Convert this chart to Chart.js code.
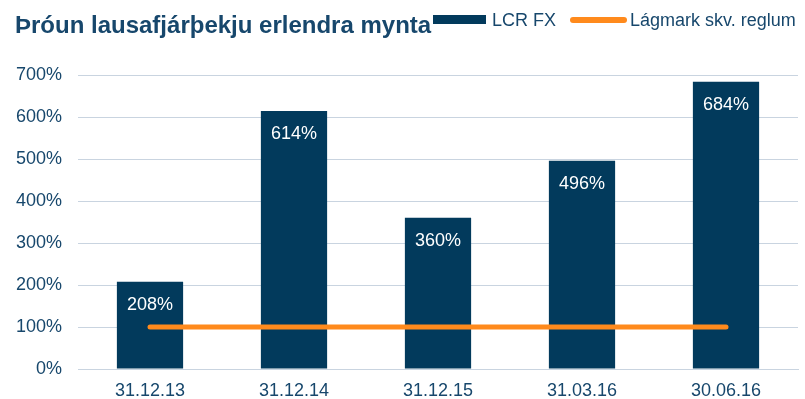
<!DOCTYPE html>
<html>
<head>
<meta charset="utf-8">
<script src="https://cdn.jsdelivr.net/npm/chart.js@4/dist/chart.umd.min.js"></script>
<style>
  html, body { margin: 0; padding: 0; background: #fff; }
  #wrap { position: relative; width: 805px; height: 399px; font-family: "Liberation Sans", Arial, sans-serif; }
  #title { position: absolute; left: 15px; top: 11px; font-size: 24px; font-weight: bold; color: #17476c; white-space: nowrap; }
  .lg { position: absolute; top: 10px; font-size: 18px; color: #17476c; white-space: nowrap; }
  .sw { position: absolute; }
  canvas { position: absolute; left: 0; top: 0; }
</style>
</head>
<body>
<div id="wrap">
  <canvas id="c" width="805" height="399"></canvas>
  <div id="title">Þróun lausafjárþekju erlendra mynta</div>
  <div class="sw" style="left:433px;top:15px;width:53px;height:9px;background:#023a5c"></div>
  <div class="lg" style="left:492px">LCR FX</div>
  <div class="sw" style="left:570px;top:17px;width:57px;height:6px;border-radius:3px;background:#ff8a1c"></div>
  <div class="lg" style="left:630px">Lágmark skv. reglum</div>
</div>
<script>
const categories = ['31.12.13', '31.12.14', '31.12.15', '31.03.16', '30.06.16'];
const lcrFx = [208, 614, 360, 496, 684];
const minimumRequirement = [100, 100, 100, 100, 100];
const yTicks = [0, 100, 200, 300, 400, 500, 600, 700];

const navy = '#023a5c';
const orange = '#ff8a1c';
const textColor = '#17476c';
const fontFamily = '"Liberation Sans", Arial, sans-serif';

// Value labels written in white just inside the top of each bar
const barLabels = {
  id: 'barLabels',
  afterDatasetsDraw(chart) {
    const ctx = chart.ctx;
    const idx = chart.data.datasets.findIndex(d => d.type === 'bar');
    const meta = chart.getDatasetMeta(idx);
    ctx.save();
    ctx.font = '18px ' + fontFamily;
    ctx.fillStyle = '#ffffff';
    ctx.textAlign = 'center';
    ctx.textBaseline = 'middle';
    meta.data.forEach((bar, i) => {
      ctx.fillText(lcrFx[i] + '%', bar.x, bar.y + 23);
    });
    ctx.restore();
  }
};

new Chart(document.getElementById('c'), {
  data: {
    labels: categories,
    datasets: [
      {
        type: 'line',
        label: 'Lágmark skv. reglum',
        data: minimumRequirement,
        borderColor: orange,
        borderWidth: 5,
        borderCapStyle: 'round',
        pointRadius: 0,
        order: 0
      },
      {
        type: 'bar',
        label: 'LCR FX',
        data: lcrFx,
        backgroundColor: navy,
        categoryPercentage: 1,
        barPercentage: 0.46,
        order: 1
      }
    ]
  },
  options: {
    responsive: false,
    animation: false,
    layout: { padding: { top: 75, right: 7, left: 0, bottom: 0 } },
    plugins: { legend: { display: false }, title: { display: false }, tooltip: { enabled: false } },
    scales: {
      x: {
        grid: { display: false, drawTicks: false },
        border: { color: '#c9d4e0', width: 1 },
        ticks: { color: textColor, font: { size: 18, family: fontFamily }, padding: 11 },
        afterFit(scale) { scale.height = 30; }
      },
      y: {
        min: 0,
        max: 700,
        afterBuildTicks(scale) { scale.ticks = yTicks.map(v => ({ value: v })); },
        grid: { color: '#c9d4e0', lineWidth: 1, drawTicks: false },
        border: { display: false },
        ticks: {
          color: textColor,
          font: { size: 18, family: fontFamily },
          padding: 16,
          callback: v => v + '%'
        },
        afterFit(scale) { scale.width = 78; }
      }
    }
  },
  plugins: [barLabels]
});
</script>
</body>
</html>
